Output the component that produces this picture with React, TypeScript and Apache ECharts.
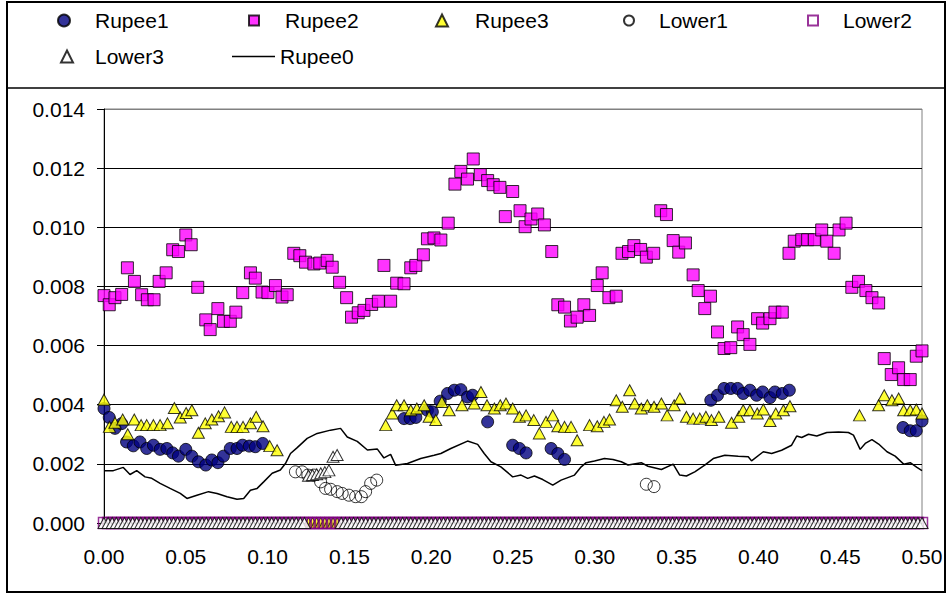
import React, { useEffect, useRef } from "react";
import * as echarts from "echarts";

// Sampling grid of the zero-row series (0 to 0.5 in steps of 0.0025)
const sampleStep = 0.0025;

const rupee1: [number, number][] = [
  [0.0, 0.00387], [0.0032, 0.00357], [0.0067, 0.0032], [0.0108, 0.00336], [0.0138, 0.00274],
  [0.0179, 0.00261], [0.022, 0.00274], [0.0261, 0.00252], [0.0302, 0.00263], [0.0343, 0.00249],
  [0.0384, 0.00252], [0.042, 0.00237], [0.0455, 0.00226], [0.05, 0.00249], [0.0537, 0.00226],
  [0.0577, 0.00207], [0.0622, 0.00196], [0.0659, 0.00213], [0.0696, 0.00204], [0.073, 0.00226],
  [0.0772, 0.00252], [0.0813, 0.00252], [0.0847, 0.00263], [0.0888, 0.0026], [0.0925, 0.00258],
  [0.097, 0.00269],
  [0.1834, 0.00353], [0.1871, 0.00353], [0.1906, 0.00357], [0.1977, 0.00381], [0.2007, 0.00376],
  [0.2055, 0.00412], [0.21, 0.00438], [0.2141, 0.00449], [0.2181, 0.00451], [0.2222, 0.00426],
  [0.2253, 0.00432], [0.2345, 0.00342], [0.2498, 0.00263], [0.2539, 0.00252], [0.258, 0.00237],
  [0.2733, 0.00252], [0.2774, 0.00235], [0.2815, 0.00215],
  [0.3709, 0.00415], [0.375, 0.00432], [0.379, 0.00455], [0.3831, 0.00455], [0.3873, 0.00455],
  [0.3907, 0.00438], [0.3948, 0.00449], [0.3989, 0.00432], [0.4026, 0.00443], [0.4071, 0.00424],
  [0.4101, 0.00443], [0.4146, 0.00438], [0.4189, 0.00449],
  [0.4884, 0.00323], [0.4928, 0.00312], [0.4965, 0.00312], [0.5, 0.00345],
];

const rupee2: [number, number][] = [
  [0.0, 0.00769], [0.0032, 0.00738], [0.0067, 0.00762], [0.0108, 0.00773], [0.0143, 0.00863],
  [0.0186, 0.00817], [0.023, 0.00772], [0.0265, 0.00755], [0.0306, 0.00755], [0.0337, 0.00817],
  [0.038, 0.00846], [0.042, 0.00924], [0.0455, 0.00918], [0.05, 0.00974], [0.0533, 0.00941],
  [0.0573, 0.00797], [0.0622, 0.00687], [0.0649, 0.00654], [0.0696, 0.00725], [0.073, 0.00682],
  [0.0772, 0.00682], [0.0806, 0.00713], [0.0848, 0.00779], [0.0895, 0.00846], [0.0925, 0.00828],
  [0.0966, 0.00781], [0.1002, 0.00779], [0.1048, 0.00803], [0.1088, 0.00764], [0.112, 0.00772],
  [0.116, 0.00912], [0.1197, 0.00904], [0.1232, 0.00882], [0.1283, 0.00876], [0.1319, 0.00879],
  [0.1364, 0.00888], [0.1395, 0.00865], [0.144, 0.00814], [0.1483, 0.00762], [0.1513, 0.00696],
  [0.1554, 0.00711], [0.1589, 0.00719], [0.1636, 0.00739], [0.1677, 0.0075], [0.1711, 0.00871],
  [0.1752, 0.0075], [0.1789, 0.00811], [0.1834, 0.00809], [0.1875, 0.00863], [0.1906, 0.00871],
  [0.1952, 0.00907], [0.1977, 0.00961], [0.2017, 0.00964], [0.2059, 0.00957], [0.2104, 0.01014],
  [0.2145, 0.01146], [0.2181, 0.01189], [0.2222, 0.01163], [0.2257, 0.01231], [0.23, 0.01178],
  [0.2345, 0.01158], [0.2379, 0.01144], [0.242, 0.01135], [0.2453, 0.01036], [0.2498, 0.01121],
  [0.2543, 0.01056], [0.2574, 0.01002], [0.261, 0.01028], [0.2651, 0.01045], [0.2692, 0.01008],
  [0.2737, 0.00918], [0.2774, 0.00738], [0.2815, 0.0073], [0.2851, 0.00683], [0.2892, 0.00696],
  [0.2933, 0.00738], [0.2968, 0.00702], [0.3015, 0.00803], [0.3045, 0.00846], [0.3086, 0.00762],
  [0.3131, 0.00767], [0.3166, 0.00912], [0.3206, 0.00918], [0.3239, 0.00938], [0.328, 0.00925],
  [0.3315, 0.00899], [0.336, 0.00912], [0.3403, 0.01056], [0.3438, 0.01043], [0.3479, 0.00955],
  [0.3513, 0.00916], [0.3554, 0.00947], [0.3601, 0.00839], [0.3632, 0.00786], [0.3672, 0.00725],
  [0.3707, 0.00767], [0.375, 0.00646], [0.379, 0.0059], [0.3831, 0.00593], [0.3873, 0.00663],
  [0.3907, 0.00637], [0.3948, 0.00604], [0.3995, 0.00691], [0.4026, 0.00676], [0.4071, 0.00691],
  [0.4101, 0.00713], [0.4146, 0.00713], [0.4187, 0.00912], [0.4219, 0.00953], [0.4265, 0.00958],
  [0.4301, 0.00958], [0.4342, 0.00958], [0.4387, 0.00991], [0.4418, 0.00953], [0.4463, 0.00912],
  [0.4493, 0.00991], [0.4536, 0.01014], [0.4571, 0.00797], [0.4612, 0.00817], [0.4657, 0.00786],
  [0.4694, 0.00762], [0.4735, 0.00744], [0.4769, 0.00556], [0.4812, 0.00502], [0.4857, 0.00525],
  [0.4888, 0.00485], [0.4928, 0.00485], [0.4965, 0.00564], [0.5, 0.00582],
];

const rupee3: [number, number][] = [
  [0.0, 0.00417], [0.0033, 0.00325], [0.0067, 0.00339], [0.0114, 0.0035], [0.0145, 0.003],
  [0.0185, 0.0035], [0.0227, 0.00331], [0.0261, 0.00331], [0.0302, 0.00331], [0.0343, 0.00331],
  [0.0388, 0.00337], [0.043, 0.00389], [0.0466, 0.00357], [0.0502, 0.00372], [0.0537, 0.00381],
  [0.0577, 0.00305], [0.0619, 0.00337], [0.0659, 0.0035], [0.07, 0.00361], [0.0737, 0.00374],
  [0.0778, 0.00325], [0.0813, 0.00325], [0.085, 0.00325], [0.0895, 0.00337], [0.093, 0.00359],
  [0.0972, 0.00327], [0.1013, 0.0026], [0.1058, 0.00246],
  [0.125, 0], [0.1275, 0], [0.13, 0], [0.1325, 0], [0.135, 0], [0.1375, 0], [0.14, 0], [0.1425, 0],
  [0.1722, 0.00331], [0.1762, 0.0037], [0.1789, 0.00398], [0.1834, 0.00398], [0.1875, 0.00381],
  [0.1912, 0.00387], [0.1957, 0.00398], [0.1987, 0.00359], [0.2028, 0.00348], [0.2065, 0.00409],
  [0.211, 0.00381], [0.2188, 0.00398], [0.2263, 0.00404], [0.2304, 0.00443], [0.2341, 0.00398],
  [0.2386, 0.00387], [0.2422, 0.00398], [0.2457, 0.00404], [0.2498, 0.00387], [0.2539, 0.00359],
  [0.258, 0.00364], [0.2627, 0.00348], [0.2661, 0.00303], [0.2702, 0.00342], [0.2743, 0.00364],
  [0.2774, 0.00327], [0.2815, 0.00325], [0.2855, 0.00325], [0.2892, 0.0028], [0.2968, 0.00331],
  [0.3015, 0.00327], [0.3056, 0.00342], [0.309, 0.0035], [0.3131, 0.00415], [0.3168, 0.00393],
  [0.3213, 0.00449], [0.3244, 0.00404], [0.3284, 0.00387], [0.3321, 0.00398], [0.3362, 0.00393],
  [0.3407, 0.00404], [0.3442, 0.00364], [0.3485, 0.00398], [0.352, 0.00421], [0.356, 0.00359],
  [0.3601, 0.00353], [0.3642, 0.00353], [0.3679, 0.00359], [0.3713, 0.00348], [0.3758, 0.00359],
  [0.3836, 0.00339], [0.388, 0.00359], [0.3907, 0.00381], [0.3948, 0.00381], [0.3993, 0.0037],
  [0.403, 0.00384], [0.4071, 0.00345], [0.4106, 0.0037], [0.4153, 0.00381], [0.4193, 0.00395],
  [0.4618, 0.00364], [0.4735, 0.00398], [0.4769, 0.00432], [0.4816, 0.00415], [0.4857, 0.00421],
  [0.4888, 0.00381], [0.4928, 0.00381], [0.4965, 0.00384], [0.5, 0.0037],
];

const lower1: [number, number][] = [
  [0.117, 0.00173], [0.1211, 0.00173], [0.1246, 0.00162], [0.1283, 0.00162], [0.1324, 0.00139],
  [0.1354, 0.00117], [0.1385, 0.00114], [0.1426, 0.00106], [0.1456, 0.001], [0.1497, 0.00094],
  [0.1538, 0.00089], [0.1573, 0.00089], [0.1599, 0.00106], [0.163, 0.00134], [0.1667, 0.00145],
  [0.3315, 0.00131], [0.3362, 0.00123],
];

// Values on the sampling grid (index i sits at x = i * sampleStep)
const lower2Values: number[] = [
  0,0,0,0,0,0,0,0,0,0,0,0,0,0,0,0,0,0,0,0,
  0,0,0,0,0,0,0,0,0,0,0,0,0,0,0,0,0,0,0,0,
  0,0,0,0,0,0,0,0,0,0,0,0,0,0,0,0,0,0,0,0,
  0,0,0,0,0,0,0,0,0,0,0,0,0,0,0,0,0,0,0,0,
  0,0,0,0,0,0,0,0,0,0,0,0,0,0,0,0,0,0,0,0,
  0,0,0,0,0,0,0,0,0,0,0,0,0,0,0,0,0,0,0,0,
  0,0,0,0,0,0,0,0,0,0,0,0,0,0,0,0,0,0,0,0,
  0,0,0,0,0,0,0,0,0,0,0,0,0,0,0,0,0,0,0,0,
  0,0,0,0,0,0,0,0,0,0,0,0,0,0,0,0,0,0,0,0,
  0,0,0,0,0,0,0,0,0,0,0,0,0,0,0,0,0,0,0,0,
  0,
];

const lower3Values: number[] = [
  0,0,0,0,0,0,0,0,0,0,0,0,0,0,0,0,0,0,0,0,
  0,0,0,0,0,0,0,0,0,0,0,0,0,0,0,0,0,0,0,0,
  0,0,0,0,0,0,0,0,0,0,0.0016,0.00162,0.00165,0.00168,0.00172,0.00178,0.00224,0.0023,0,0,
  0,0,0,0,0,0,0,0,0,0,0,0,0,0,0,0,0,0,0,0,
  0,0,0,0,0,0,0,0,0,0,0,0,0,0,0,0,0,0,0,0,
  0,0,0,0,0,0,0,0,0,0,0,0,0,0,0,0,0,0,0,0,
  0,0,0,0,0,0,0,0,0,0,0,0,0,0,0,0,0,0,0,0,
  0,0,0,0,0,0,0,0,0,0,0,0,0,0,0,0,0,0,0,0,
  0,0,0,0,0,0,0,0,0,0,0,0,0,0,0,0,0,0,0,0,
  0,0,0,0,0,0,0,0,0,0,0,0,0,0,0,0,0,0,0,0,
  0,
];

const rupee0: [number, number][] = [
  [0.0, 0.00177], [0.0057, 0.00177], [0.0118, 0.00188], [0.0159, 0.00164], [0.02, 0.00177],
  [0.0251, 0.00156], [0.0292, 0.00151], [0.0343, 0.00134], [0.0404, 0.00117], [0.0466, 0.001],
  [0.0507, 0.00083], [0.0568, 0.00094], [0.0639, 0.00106], [0.0691, 0.001], [0.0752, 0.00089],
  [0.0813, 0.0008], [0.0854, 0.00083], [0.0895, 0.00111], [0.0936, 0.00117], [0.0976, 0.00139],
  [0.1028, 0.00168], [0.1078, 0.00179], [0.1109, 0.00201], [0.114, 0.00235], [0.1181, 0.00255],
  [0.1242, 0.00286], [0.1303, 0.00303], [0.1385, 0.00314], [0.1446, 0.0032], [0.1487, 0.00291],
  [0.1548, 0.00276], [0.161, 0.00247], [0.1671, 0.0025], [0.1711, 0.0022], [0.1752, 0.00232],
  [0.1783, 0.00195], [0.1855, 0.00201], [0.1936, 0.00218], [0.2018, 0.00229], [0.2059, 0.00235],
  [0.212, 0.00252], [0.2222, 0.00277], [0.2284, 0.00266], [0.2324, 0.00235], [0.2365, 0.00207],
  [0.2426, 0.0019], [0.2498, 0.00156], [0.2549, 0.00162], [0.259, 0.00151], [0.2631, 0.00159],
  [0.2682, 0.00147], [0.2743, 0.00128], [0.2794, 0.00145], [0.2876, 0.00162], [0.2917, 0.0019],
  [0.2947, 0.00204], [0.2998, 0.0021], [0.3059, 0.00218], [0.3111, 0.00215], [0.3162, 0.00207],
  [0.3203, 0.00196], [0.3284, 0.00204], [0.3325, 0.00192], [0.3407, 0.00181], [0.3479, 0.00199],
  [0.3519, 0.00162], [0.356, 0.00159], [0.3611, 0.00173], [0.3672, 0.00196], [0.3724, 0.00218],
  [0.3795, 0.00229], [0.3877, 0.00226], [0.3938, 0.00224], [0.3958, 0.0021], [0.403, 0.00241],
  [0.4081, 0.00235], [0.4142, 0.00246], [0.4203, 0.00263], [0.4234, 0.00294], [0.4265, 0.00289],
  [0.4306, 0.003], [0.4357, 0.00294], [0.4418, 0.00306], [0.449, 0.00308], [0.455, 0.00306],
  [0.4581, 0.00297], [0.4622, 0.00249], [0.4653, 0.00269], [0.4694, 0.00282], [0.4735, 0.00267],
  [0.4786, 0.00241], [0.4836, 0.00226], [0.4888, 0.00199], [0.4928, 0.00204], [0.4969, 0.00188],
  [0.5, 0.00177],
];

const seriesNames = ["Rupee1", "Rupee2", "Rupee3", "Lower1", "Lower2", "Lower3", "Rupee0"];

const FONT = '"Liberation Sans", Arial, sans-serif';
const FONT_SIZE = 21;

const onGrid = (values: number[]): [number, number][] =>
  values.map((v, i) => [i * sampleStep, v]);

type LegendSpec = {
  name: string;
  left: number;
  top: number;
  w: number;
  h: number;
  gap: number;
  icon?: string;
};

const legendSpecs: LegendSpec[] = [
  { name: "Rupee1", left: 57, top: 10, w: 12, h: 12, gap: 20 },
  { name: "Rupee2", left: 248, top: 10, w: 10, h: 10, gap: 21 },
  { name: "Rupee3", left: 435, top: 10, w: 12, h: 12, gap: 22 },
  { name: "Lower1", left: 623, top: 10, w: 10, h: 10, gap: 20 },
  { name: "Lower2", left: 807, top: 10, w: 10, h: 10, gap: 20 },
  { name: "Lower3", left: 60, top: 46, w: 12, h: 12, gap: 17 },
  { name: "Rupee0", left: 232, top: 46, w: 43, h: 1.5, gap: 0, icon: "rect" },
];

export default function App() {
  const ref = useRef<HTMLDivElement>(null);

  useEffect(() => {
    if (!ref.current) return;
    const chart = echarts.init(ref.current, undefined, { renderer: "svg" });

    const textStyle = { fontFamily: FONT, fontSize: FONT_SIZE, color: "#000" };

    const option: echarts.EChartsOption = {
      animation: false,
      backgroundColor: "#fff",
      textStyle,
      grid: {
        left: 104,
        right: 24,
        top: 109,
        bottom: 72,
        show: true,
        borderColor: "#808080",
        borderWidth: 1,
      },
      legend: legendSpecs.map((s) => ({
        data: [s.icon ? { name: s.name, icon: s.icon } : s.name],
        left: s.left,
        top: s.top,
        itemWidth: s.w,
        itemHeight: s.h,
        selectedMode: false,
        padding: 0,
        formatter: (name: string) => `{t|${name}}`,
        textStyle: {
          ...textStyle,
          rich: { t: { ...textStyle, padding: [0, 0, 0, s.gap] } },
        },
      })),
      xAxis: {
        type: "value",
        min: 0,
        max: 0.5,
        interval: 0.05,
        axisLine: { show: true, onZero: false, lineStyle: { color: "#000", width: 1 } },
        axisTick: { show: false },
        splitLine: { show: false },
        axisLabel: {
          ...textStyle,
          margin: 23,
          formatter: (v: number) => v.toFixed(2),
        },
      },
      yAxis: {
        type: "value",
        min: 0,
        max: 0.014,
        interval: 0.002,
        axisLine: { show: true, lineStyle: { color: "#000", width: 1 } },
        axisTick: { show: true, length: 7, lineStyle: { color: "#000" } },
        splitLine: {
          show: true,
          lineStyle: {
            color: ["#000", "#000", "#000", "#000", "#000", "#000", "#000", "#808080"],
            width: 1,
          },
        },
        axisLabel: {
          ...textStyle,
          margin: 19,
          formatter: (v: number) => v.toFixed(3),
        },
      },
      graphic: [
        {
          type: "rect",
          silent: true,
          shape: { x: 7, y: 2, width: 938, height: 590 },
          style: { fill: "none", stroke: "#000", lineWidth: 2 },
          z: 100,
        },
        {
          type: "line",
          silent: true,
          shape: { x1: 7, y1: 88, x2: 945, y2: 88 },
          style: { stroke: "#000", lineWidth: 1.5 },
          z: 100,
        },
      ],
      series: [
        {
          name: seriesNames[0],
          type: "scatter",
          data: rupee1,
          symbol: "circle",
          symbolSize: 12,
          itemStyle: { color: "#000080", borderColor: "#000", borderWidth: 1 },
        },
        {
          name: seriesNames[1],
          type: "scatter",
          data: rupee2,
          symbol: "rect",
          symbolSize: 12,
          itemStyle: { color: "#FF00FF", borderColor: "#000", borderWidth: 1 },
        },
        {
          name: seriesNames[2],
          type: "scatter",
          data: rupee3,
          symbol: "triangle",
          symbolSize: [12, 11],
          itemStyle: { color: "#FFFF00", borderColor: "#000", borderWidth: 1 },
        },
        {
          name: seriesNames[3],
          type: "scatter",
          data: lower1,
          symbol: "circle",
          symbolSize: 12,
          itemStyle: { color: "rgba(255,255,255,0)", borderColor: "#000", borderWidth: 1 },
        },
        {
          name: seriesNames[4],
          type: "scatter",
          data: onGrid(lower2Values),
          symbol: "rect",
          symbolSize: 11,
          itemStyle: { color: "rgba(255,255,255,0)", borderColor: "#800080", borderWidth: 1.5 },
        },
        {
          name: seriesNames[5],
          type: "scatter",
          data: onGrid(lower3Values),
          symbol: "triangle",
          symbolSize: [12, 11],
          itemStyle: { color: "#fff", borderColor: "#000", borderWidth: 1 },
        },
        {
          name: seriesNames[6],
          type: "line",
          data: rupee0,
          symbol: "none",
          showSymbol: false,
          lineStyle: { color: "#000", width: 1.5 },
          itemStyle: { color: "#000" },
        },
      ],
    };

    chart.setOption(option);
    return () => chart.dispose();
  }, []);

  return (
    <div
      ref={ref}
      style={{ position: "fixed", left: 0, top: 0, width: 946, height: 595 }}
    />
  );
}
